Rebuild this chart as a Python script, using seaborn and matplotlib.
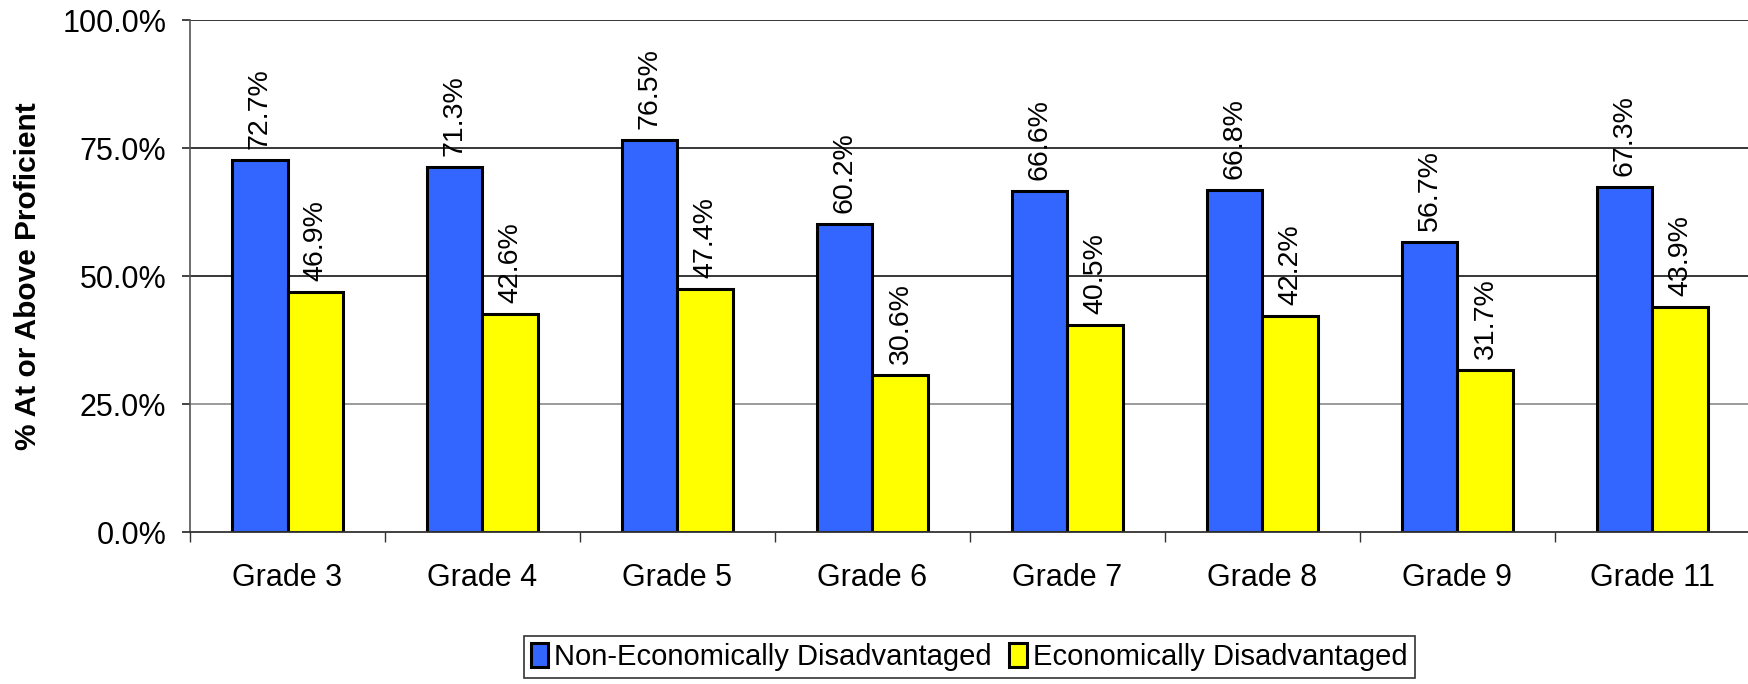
import pandas as pd
import matplotlib
matplotlib.use("Agg")
import matplotlib.pyplot as plt
import seaborn as sns
from matplotlib.ticker import FuncFormatter, FixedLocator

grades = ["Grade 3", "Grade 4", "Grade 5", "Grade 6", "Grade 7", "Grade 8", "Grade 9", "Grade 11"]
non_econ = [72.7, 71.3, 76.5, 60.2, 66.6, 66.8, 56.7, 67.3]
econ = [46.9, 42.6, 47.4, 30.6, 40.5, 42.2, 31.7, 43.9]
groups = ["Non-Economically Disadvantaged", "Economically Disadvantaged"]
colors = ["#3366FF", "#FFFF00"]

# long format for seaborn
df = pd.DataFrame({
    "Grade": grades * 2,
    "Pct": non_econ + econ,
    "Group": [groups[0]] * len(grades) + [groups[1]] * len(grades),
})

sns.set_style("white", {"text.color": "black", "xtick.color": "black",
                        "ytick.color": "black", "axes.labelcolor": "black",
                        "ytick.left": True, "xtick.bottom": True})
plt.rcParams["font.family"] = ["Liberation Sans", "DejaVu Sans"]

fig = plt.figure(figsize=(17.49, 6.84), dpi=100)
ax = fig.add_axes([190 / 1749, 1 - 532 / 684, 1560 / 1749, 512 / 684])

sns.barplot(data=df, x="Grade", y="Pct", hue="Group", palette=colors, saturation=1,
            width=0.574, gap=0, edgecolor="black", linewidth=2.2, ax=ax)

# value labels above each bar
for cont in ax.containers:
    ax.bar_label(cont, labels=[f"{v:.1f}%" for v in cont.datavalues],
                 rotation=90, padding=8, fontsize=20.5, color="black")

ax.set_ylim(0, 100)
ax.set_xlim(-0.5, len(grades) - 0.5)
ax.set_yticks([0, 25, 50, 75, 100])
ax.yaxis.set_major_formatter(FuncFormatter(lambda v, p: f"{v:.1f}%"))
ax.tick_params(axis="y", labelsize=22, length=6, width=1.2, color="#222222", pad=11,
               left=True, labelcolor="black")

# ticks between categories on the x axis
ax.xaxis.set_minor_locator(FixedLocator([i - 0.5 for i in range(len(grades) + 1)]))
ax.tick_params(axis="x", which="major", length=0, labelsize=22, pad=22, labelcolor="black")
ax.tick_params(axis="x", which="minor", length=7, width=1, color="#333333", bottom=True)

# gridlines (25% line is grey in the original)
for yv, c in [(25, "#808080"), (50, "black"), (75, "black"), (100, "black")]:
    ax.axhline(yv, color=c, linewidth=1.1, zorder=0)

for s in ["top", "right"]:
    ax.spines[s].set_visible(False)
ax.spines["left"].set_color("#555555")
ax.spines["bottom"].set_color("#333333")
ax.spines["left"].set_linewidth(1.2)
ax.spines["bottom"].set_linewidth(1.3)

ax.set_xlabel("")
ax.set_ylabel("% At or Above Proficient", fontsize=21.5, fontweight="bold", color="black")
ax.yaxis.set_label_coords(-0.095, 0.5)

handles, labels = ax.get_legend_handles_labels()
ax.legend_.remove()
leg = fig.legend(handles, labels, loc="center", bbox_to_anchor=(969 / 1749, 1 - 657 / 684),
                 ncol=2, fontsize=21, frameon=True, fancybox=False, edgecolor="black",
                 handlelength=0.6, handleheight=0.9, handletextpad=0.2,
                 columnspacing=0.6, borderpad=0.25, borderaxespad=0)
leg.get_frame().set_linewidth(1.2)
for t in leg.get_texts():
    t.set_color("black")

fig.savefig("out.png", dpi=100, facecolor="white")
